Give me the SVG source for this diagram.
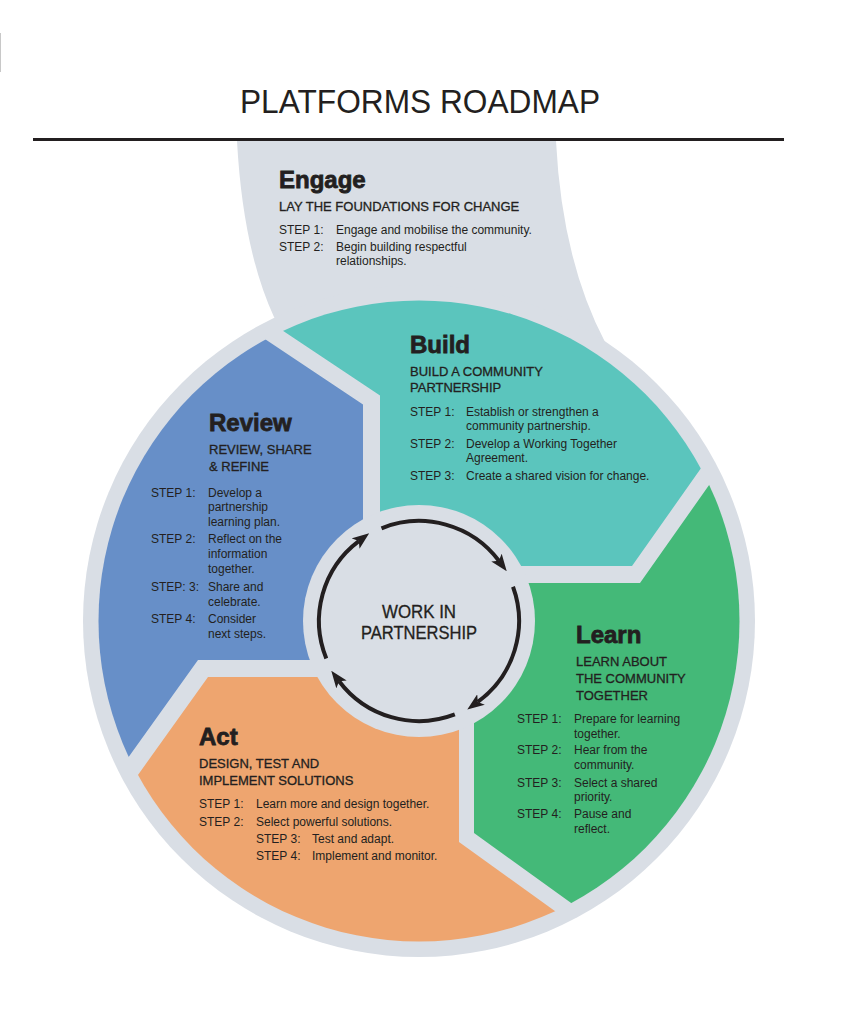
<svg xmlns="http://www.w3.org/2000/svg" width="860" height="1033" viewBox="0 0 860 1033">
<defs>
<style>
.t{font-family:"Liberation Sans",Arial,sans-serif;fill:#231f20}
.h{font-size:24px;font-weight:700;stroke:#231f20;stroke-width:0.8}
.s{font-size:13px;stroke:#231f20;stroke-width:0.3}
.b{font-size:12px}
.c{font-size:17.5px;text-anchor:middle;stroke:#231f20;stroke-width:0.3}
.g{fill:#d9dee5}
.arc{fill:none;stroke:#231f20;stroke-width:4;marker-end:url(#ah)}
</style>
<clipPath id="inner"><circle cx="419" cy="621" r="320.5"/></clipPath>
<marker id="ah" markerUnits="userSpaceOnUse" markerWidth="17" markerHeight="13" viewBox="0 0 17 13" refX="4" refY="6.5" orient="auto"><path d="M0,0 L17,6.5 L0,13 L4,6.5 Z" fill="#231f20"/></marker>
</defs>
<rect width="860" height="1033" fill="#ffffff"/>
<line x1="0.5" y1="33" x2="0.5" y2="72" stroke="#c8c8c8" stroke-width="1"/>

<g id="title">
<text class="t" x="240" y="113" font-family="Open Sans, Liberation Sans, sans-serif" font-weight="300" font-size="33" textLength="360" lengthAdjust="spacingAndGlyphs">PLATFORMS ROADMAP</text>
<line x1="33" y1="139.5" x2="784" y2="139.5" stroke="#231f20" stroke-width="3"/>
</g>

<g id="engage">
<path class="g" d="M237,141 L556,141 Q562,260 605,342 L419,520 L274,317 Q243,250 237,141 Z"/>
<circle class="g" cx="419" cy="621" r="336"/>
<text class="t h" x="279" y="188">Engage</text>
<text class="t s" x="279" y="211">LAY THE FOUNDATIONS FOR CHANGE</text>
<text class="t b" x="279" y="234">STEP 1:</text>
<text class="t b" x="336" y="234">Engage and mobilise the community.</text>
<text class="t b" x="279" y="251">STEP 2:</text>
<text class="t b" x="336" y="251">Begin building respectful</text>
<text class="t b" x="336" y="265">relationships.</text>
</g>

<g id="segments" clip-path="url(#inner)">
<polygon id="shape-review" fill="#678fc8" points="240,322.5 363,404.5 363,660 198,660 90,811 50,700 50,300"/>
<polygon id="shape-build" fill="#5bc5bd" points="250,308.8 380,395.5 380,566 632,566 740,413 740,250 250,250"/>
<polygon id="shape-learn" fill="#44b978" points="750,427 640,583 474,583 474,833 610,931 800,931 800,427"/>
<polygon id="shape-act" fill="#eea56f" points="600,943.5 459,842 459,677 208,677 100,828 100,1000 600,1000"/>
</g>

<g id="hub">
<circle class="g" cx="419" cy="621" r="116"/>
<text class="t c" x="419" y="618" textLength="74" lengthAdjust="spacingAndGlyphs">WORK IN</text>
<text class="t c" x="419" y="639" textLength="116" lengthAdjust="spacingAndGlyphs">PARTNERSHIP</text>
</g>

<g id="connectors">
<path class="arc" d="M381.5,528.3 A100,100 0 0 1 498.9,560.8"/>
<path class="arc" d="M513,586.8 A100,100 0 0 1 477.8,701.9"/>
<path class="arc" d="M454.8,714.4 A100,100 0 0 1 339.1,681.2"/>
<path class="arc" d="M326.3,658.5 A100,100 0 0 1 358.8,541.1"/>
</g>

<g id="build">
<text class="t h" x="410" y="353">Build</text>
<text class="t s" x="410" y="376">BUILD A COMMUNITY</text>
<text class="t s" x="410" y="392">PARTNERSHIP</text>
<text class="t b" x="410" y="416">STEP 1:</text>
<text class="t b" x="466" y="416">Establish or strengthen a</text>
<text class="t b" x="466" y="430">community partnership.</text>
<text class="t b" x="410" y="448">STEP 2:</text>
<text class="t b" x="466" y="448">Develop a Working Together</text>
<text class="t b" x="466" y="462">Agreement.</text>
<text class="t b" x="410" y="480">STEP 3:</text>
<text class="t b" x="466" y="480">Create a shared vision for change.</text>
</g>

<g id="review">
<text class="t h" x="209" y="431">Review</text>
<text class="t s" x="209" y="454">REVIEW, SHARE</text>
<text class="t s" x="209" y="471">&amp; REFINE</text>
<text class="t b" x="151" y="497">STEP 1:</text>
<text class="t b" x="208" y="497">Develop a</text>
<text class="t b" x="208" y="511">partnership</text>
<text class="t b" x="208" y="526">learning plan.</text>
<text class="t b" x="151" y="543">STEP 2:</text>
<text class="t b" x="208" y="543">Reflect on the</text>
<text class="t b" x="208" y="558">information</text>
<text class="t b" x="208" y="573">together.</text>
<text class="t b" x="151" y="591">STEP: 3:</text>
<text class="t b" x="208" y="591">Share and</text>
<text class="t b" x="208" y="606">celebrate.</text>
<text class="t b" x="151" y="623">STEP 4:</text>
<text class="t b" x="208" y="623">Consider</text>
<text class="t b" x="208" y="638">next steps.</text>
</g>

<g id="learn">
<text class="t h" x="576" y="643">Learn</text>
<text class="t s" x="576" y="666">LEARN ABOUT</text>
<text class="t s" x="576" y="683">THE COMMUNITY</text>
<text class="t s" x="576" y="700">TOGETHER</text>
<text class="t b" x="517" y="723">STEP 1:</text>
<text class="t b" x="574" y="723">Prepare for learning</text>
<text class="t b" x="574" y="738">together.</text>
<text class="t b" x="517" y="754">STEP 2:</text>
<text class="t b" x="574" y="754">Hear from the</text>
<text class="t b" x="574" y="769">community.</text>
<text class="t b" x="517" y="787">STEP 3:</text>
<text class="t b" x="574" y="787">Select a shared</text>
<text class="t b" x="574" y="801">priority.</text>
<text class="t b" x="517" y="818">STEP 4:</text>
<text class="t b" x="574" y="818">Pause and</text>
<text class="t b" x="574" y="833">reflect.</text>
</g>

<g id="act">
<text class="t h" x="199" y="745">Act</text>
<text class="t s" x="199" y="768">DESIGN, TEST AND</text>
<text class="t s" x="199" y="785">IMPLEMENT SOLUTIONS</text>
<text class="t b" x="199" y="808">STEP 1:</text>
<text class="t b" x="256" y="808">Learn more and design together.</text>
<text class="t b" x="199" y="826">STEP 2:</text>
<text class="t b" x="256" y="826">Select powerful solutions.</text>
<text class="t b" x="256" y="843">STEP 3:</text>
<text class="t b" x="312" y="843">Test and adapt.</text>
<text class="t b" x="256" y="860">STEP 4:</text>
<text class="t b" x="312" y="860">Implement and monitor.</text>
</g>
</svg>
